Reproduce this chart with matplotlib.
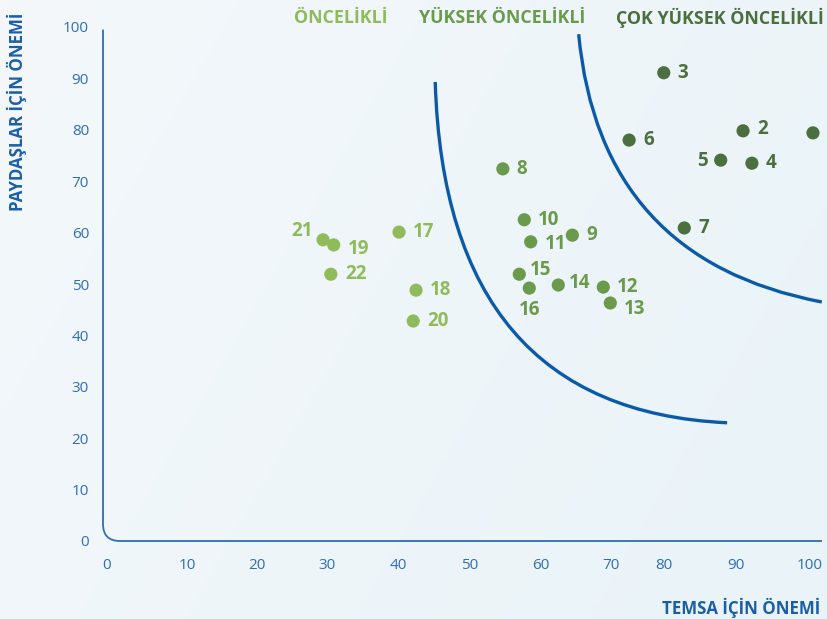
import numpy as np
import matplotlib
matplotlib.use('Agg')
import matplotlib.pyplot as plt
from matplotlib.path import Path
from matplotlib.patches import PathPatch

plt.rcParams['font.family'] = ['Open Sans', 'DejaVu Sans']

# data
ids_low = ['21', '19', '22', '17', '18', '20']
x_low = [29.4, 30.9, 30.5, 40.1, 42.5, 42.1]
y_low = [58.6, 57.6, 51.9, 60.1, 48.8, 42.8]

ids_high = ['8', '10', '11', '9', '15', '16', '14', '12', '13']
x_high = [54.7, 57.7, 58.6, 64.5, 57.0, 58.4, 62.5, 68.9, 69.9]
y_high = [72.4, 62.5, 58.2, 59.5, 51.9, 49.2, 49.8, 49.4, 46.3]

ids_top = ['3', '6', '2', '5', '4', '7', '1']
x_top = [79.9, 73.4, 91.0, 87.9, 92.2, 82.8, 100.5]
y_top = [91.1, 78.0, 79.8, 74.1, 73.5, 60.9, 79.4]

# boundary curves: start, bend, end (quadratic bezier)
curve1 = [(45.2, 89.3), (46.6, 25.5), (88.8, 23.0)]
curve2 = [(65.4, 98.6), (68.4, 54.7), (101.7, 46.5)]

x_ticks = [0, 10, 20, 30, 40, 50, 60, 70, 80, 90, 100]
y_ticks = [0, 10, 20, 30, 40, 50, 60, 70, 80, 90, 100]

# uneven spacing of the x tick labels in the original
x_scale_in = [-10] + x_ticks + [110]
x_scale_out = [25.7, 106.7, 187.7, 256.7, 327.3, 398.3, 469.3, 540.7, 611, 664.3, 735.7, 809.3, 882.9]

def fwd(v):
    return np.interp(v, x_scale_in, x_scale_out)

def inv(v):
    return np.interp(v, x_scale_out, x_scale_in)

c_light = '#8fbb5a'
c_mid = '#6a9a4b'
c_dark = '#4b6f3f'
c_axis = '#2f6db5'
c_curve = '#0b5aa7'
c_title = '#1b5ea8'

fig = plt.figure(figsize=(8.27, 6.19), dpi=100)

# soft background gradient
bg = fig.add_axes([0, 0, 1, 1], zorder=-5)
gx, gy = np.meshgrid(np.linspace(0, 1, 200), np.linspace(0, 1, 200))
g = (gx * 0.7 + gy * 0.3)
c0 = np.array([0xf4, 0xf8, 0xfb]) / 255
c1 = np.array([0xe9, 0xf3, 0xf8]) / 255
img = c0[None, None, :] * (1 - g[..., None]) + c1[None, None, :] * g[..., None]
bg.imshow(img, aspect='auto', extent=[0, 1, 0, 1], origin='upper')
bg.axis('off')

W, H = 827, 619
left_px, right_px, bot_px, top_px = 103, 822, 541, 27
ax = fig.add_axes([left_px / W, 1 - bot_px / H, (right_px - left_px) / W, (bot_px - top_px) / H])
ax.set_facecolor('none')
ax.set_xscale('function', functions=(fwd, inv))
ax.set_xlim(inv(left_px), inv(right_px))
ax.set_ylim(0, 100)
for s in ax.spines.values():
    s.set_visible(False)

ax.set_xticks(x_ticks)
ax.set_xticklabels([str(t) for t in x_ticks])
ax.set_yticks(y_ticks)
ax.set_yticklabels([str(t) for t in y_ticks])
ax.tick_params(axis='both', length=0, labelsize=11, labelcolor=c_axis)
ax.tick_params(axis='x', pad=12)
ax.tick_params(axis='y', pad=10)
ax.minorticks_off()

# axis line with rounded corner
rx, ry = 17 / (right_px - left_px), 17 / (bot_px - top_px)
corner = Path([(0, 0.995), (0, ry), (0, 0), (rx, 0), (1, 0)],
              [Path.MOVETO, Path.LINETO, Path.CURVE3, Path.CURVE3, Path.LINETO])
ax.add_patch(PathPatch(corner, transform=ax.transAxes, fill=False,
                       edgecolor=c_axis, lw=1.3, clip_on=False))

for cv in [curve1, curve2]:
    p = Path(cv, [Path.MOVETO, Path.CURVE3, Path.CURVE3])
    ax.add_patch(PathPatch(p, fill=False, edgecolor=c_curve, lw=2.4,
                           capstyle='butt', clip_on=False, zorder=2))

ax.scatter(x_low, y_low, s=90, color=c_light, edgecolors='none', zorder=3, clip_on=False)
ax.scatter(x_high, y_high, s=90, color=c_mid, edgecolors='none', zorder=3, clip_on=False)
ax.scatter(x_top, y_top, s=90, color=c_dark, edgecolors='none', zorder=3, clip_on=False)

# label offsets in pixels (dx, dy, ha); default is to the right
special = {'21': (-10, 9, 'right'), '19': (14, -4, 'left'), '11': (14, -2, 'left'),
           '15': (11, 4, 'left'), '16': (0, -22, 'center'), '14': (11, 2, 'left'),
           '13': (14, -6, 'left'), '2': (14, 2, 'left'), '5': (-13, -1, 'right')}
# label of point 1 falls outside the picture in the original
hidden = ['1']

def label(ids, xs, ys, col):
    for i, x, y in zip(ids, xs, ys):
        if i in hidden:
            continue
        dx, dy, ha = special.get(i, (14, 0, 'left'))
        ax.annotate(i, (x, y), xytext=(dx * 0.72, dy * 0.72), textcoords='offset points',
                    ha=ha, va='center', fontsize=13.5, fontweight='bold', color=col,
                    annotation_clip=False)

label(ids_low, x_low, y_low, c_light)
label(ids_high, x_high, y_high, c_mid)
label(ids_top, x_top, y_top, c_dark)

fig.text(341 / W, 1 - 18 / H, 'ÖNCELİKLİ', ha='center', va='center',
         fontsize=12.8, fontweight='bold', color=c_light)
fig.text(502 / W, 1 - 18 / H, 'YÜKSEK ÖNCELİKLİ', ha='center', va='center',
         fontsize=12.8, fontweight='bold', color=c_mid)
fig.text(720 / W, 1 - 18 / H, 'ÇOK YÜKSEK ÖNCELİKLİ', ha='center', va='center',
         fontsize=12.8, fontweight='bold', color=c_dark)

fig.text(17 / W, 1 - 112 / H, 'PAYDAŞLAR İÇİN ÖNEMİ', rotation=90, ha='center', va='center',
         fontsize=12.2, fontweight='bold', color=c_title)
fig.text(820 / W, 1 - 608 / H, 'TEMSA İÇİN ÖNEMİ', ha='right', va='center',
         fontsize=12.2, fontweight='bold', color=c_title)

fig.savefig('out.png', dpi=100)
